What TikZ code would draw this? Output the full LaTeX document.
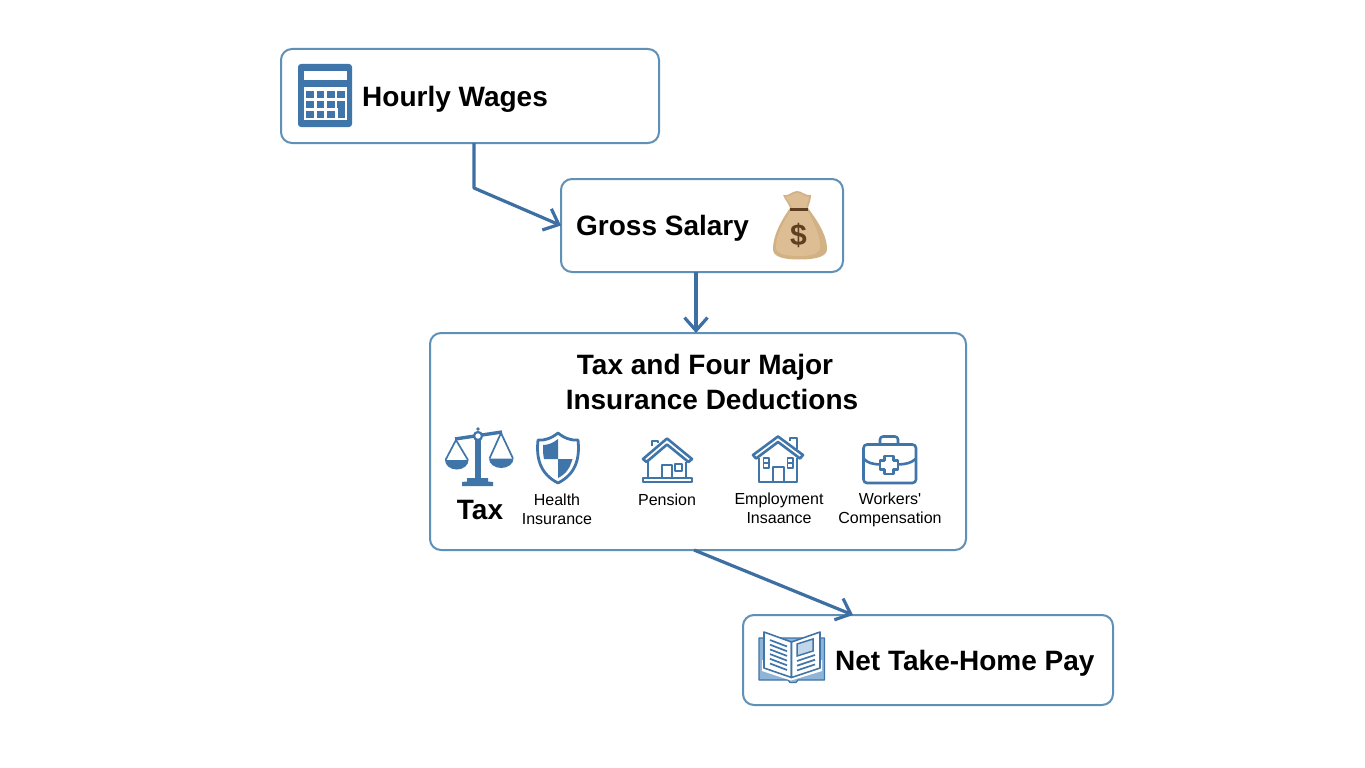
\documentclass[tikz,border=0pt]{standalone}
\usepackage{fontspec}
\setmainfont{Liberation Sans}
\usetikzlibrary{arrows.meta}
\definecolor{boxline}{HTML}{5F90B7}
\definecolor{flowc}{HTML}{3D6FA3}
\definecolor{iconc}{HTML}{3F75A8}
\definecolor{booklt}{HTML}{8FB4D6}
\definecolor{bagc}{HTML}{DDBE94}
\definecolor{bagd}{HTML}{D2B185}
\definecolor{bagb}{HTML}{5E3F22}
\tikzset{
  panel/.style={draw=boxline,line width=2pt,rounded corners=11pt,fill=white,inner sep=0pt,outer sep=0pt},
  flow/.style={draw=flowc,line width=3.2pt,-{Straight Barb[length=13pt,width=23pt,line width=3.2pt]}},
  head/.style={font=\bfseries\fontsize{28}{32}\selectfont,inner sep=0pt,text=black},
  small/.style={font=\fontsize{16}{18.6}\selectfont,inner sep=0pt,align=center,text=black},
  ico/.style={draw=iconc,line width=2.6pt,line join=round,fill=none},
}
\begin{document}
\begin{tikzpicture}[x=1pt,y=-1pt]
\useasboundingbox (0,0) rectangle (1365,768);
\fill[white] (0,0) rectangle (1365,768);
% panels
\node[panel,minimum width=378pt,minimum height=94pt] (hw) at (470,96) {};
\node[panel,minimum width=282pt,minimum height=93pt] (gs) at (702,225.5) {};
\node[panel,minimum width=536pt,minimum height=217pt] (td) at (698,441.5) {};
\node[panel,minimum width=370pt,minimum height=90pt] (np) at (928,660) {};
% connectors
\coordinate (b1) at (474,188);
\coordinate (b2) at (696,300);
\coordinate (b3) at (694,580);
\coordinate (b4) at (853,600);
\draw[flow,line join=round] (hw.south -| b1) -- (b1) -- (gs.west);
\draw[flow] (gs.south -| b2) -- (td.north -| b2);
\draw[flow] (td.south -| b3) -- (np.north -| b4);
% texts
\node[head,anchor=base west] (t1) at (362,106) {Hourly Wages};
\node[head,anchor=base west] (t2) at (576,235) {Gross Salary};
\node[head,anchor=base] (t3) at (705,374) {Tax and Four Major};
\node[head,anchor=base] (t4) at (712,409) {Insurance Deductions};
\node[head,anchor=base west] (t5) at (835,670) {Net Take-Home Pay};
\node[inner sep=0pt,anchor=base,font=\bfseries\fontsize{28}{32}\selectfont] (t6) at (480,519) {Tax};
\node[small] (l1) at (557,509) {Health\\Insurance};
\node[small] (l2) at (667,500) {Pension};
\node[small] (l3) at (779,508.5) {Employment\\Insaance};
\node[small] (l4) at (890,510) {Workers\textquotesingle\\Compensation};
% calculator
\fill[iconc,rounded corners=3pt] (298,64) rectangle (352,127);
\fill[white] (304,71) rectangle (346.5,80);
\fill[white] (304,87) rectangle (347,120);
\foreach \x in {306,316.5,327,337}{\foreach \y in {90.5,100.5}{\fill[iconc] (\x,\y) rectangle +(7.5,7);}}
\foreach \x in {306,316.5,327}{\fill[iconc] (\x,110.5) rectangle +(7.5,7);}
\fill[iconc] (338,100.5) rectangle (344.5,117.5);
% money bag
\fill[bagd] (783,195) .. controls (788,197) and (792,191) .. (797,191)
 .. controls (802,191) and (805,196) .. (811,195) .. controls (811,200) and (809,204) .. (808,208)
 .. controls (812,214) and (827,232) .. (827,249) .. controls (827,256) and (818,259.5) .. (799,259.5)
 .. controls (781,259.5) and (773,256) .. (773,249) .. controls (773,232) and (786,214) .. (790,208)
 .. controls (789,204) and (785,200) .. (783,195) -- cycle;
\fill[bagc] (785,196.5) .. controls (790,197) and (793,193) .. (797,193)
 .. controls (802,193) and (805,197) .. (809,197) .. controls (808,201) and (807,205) .. (806,208)
 .. controls (810,216) and (820,232) .. (820,246) .. controls (820,254) and (812,256) .. (799,256)
 .. controls (785,256) and (776,254) .. (776,247) .. controls (776,232) and (788,216) .. (792,208)
 .. controls (791,204) and (787,200) .. (785,196.5) -- cycle;
\draw[bagb,line width=3.6pt] (790,209.5) -- (808,209.5);
\node[inner sep=0pt,text=bagb,font=\bfseries\fontsize{30}{32}\selectfont] (dollar) at (798.5,235) {\$};
% scales
\draw[iconc,line width=3.4pt] (455,439) -- (502,432);
\draw[iconc,line width=6pt] (478,436) -- (478,480);
\fill[iconc] (467,478) -- (488,478) -- (488,481.5) -- (493,482) -- (493,486) -- (462,486) -- (462,482) -- (467,481.5) -- cycle;
\draw[iconc,line width=1.7pt,line join=round] (445.5,460) -- (456,440) -- (468,460);
\draw[iconc,line width=1.7pt,line join=round] (489.5,458.5) -- (501,433) -- (513,458.5);
\fill[iconc] (445,460) -- (468.5,460) arc[start angle=0,end angle=-180,x radius=11.75pt,y radius=9.5pt] -- cycle;
\fill[iconc] (489,458.5) -- (513.5,458.5) arc[start angle=0,end angle=-180,x radius=12.25pt,y radius=9.5pt] -- cycle;
\fill[iconc] (478,429) circle[radius=1.8pt];
\fill[white] (478,436) circle[radius=4pt];
\draw[iconc,line width=2.2pt] (478,436) circle[radius=4pt];
% shield
\draw[iconc,line width=2.8pt,line join=round] (558,433) .. controls (564,438) and (572,441) .. (578,440) .. controls (580,458) and (576,474) .. (558,483) .. controls (540,474) and (536,458) .. (538,440) .. controls (544,441) and (552,438) .. (558,433) -- cycle;
\fill[iconc] (558,439) .. controls (553,443) and (548,445) .. (543,445) .. controls (543,450) and (543,455) .. (544,459) -- (558,459) -- cycle;
\fill[iconc] (558,459) -- (572.5,459) .. controls (570,468) and (566,474) .. (558,478) -- cycle;
% pension house
\draw[ico] (643,459) -- (667,438.5) -- (692,459) -- (688.5,462) -- (667,444.5) -- (646.5,462) -- cycle;
\draw[ico] (652,446) -- (652,441) -- (658,441) -- (658,443);
\draw[ico] (648,462) -- (648,478);
\draw[ico] (686,462) -- (686,478);
\draw[ico] (643,478) rectangle (692,482);
\draw[ico] (662,478) -- (662,465) -- (672,465) -- (672,478);
\draw[ico] (675,464) rectangle (682,471);
% employment house
\draw[ico] (753,455) -- (778,436.5) -- (803,455) -- (800,458.5) -- (778,442) -- (756,458.5) -- cycle;
\draw[ico] (790,441) -- (790,438) -- (797,438) -- (797,449);
\draw[ico] (759,458) -- (759,482) -- (797,482) -- (797,458);
\draw[ico] (773,482) -- (773,467) -- (784,467) -- (784,482);
\draw[ico,line width=1.7pt] (763.5,458) rectangle (769,468);
\draw[ico,line width=1.7pt] (763.5,463) -- (769,463);
\draw[ico,line width=1.7pt] (787.5,458) rectangle (793,468);
\draw[ico,line width=1.7pt] (787.5,463) -- (793,463);
% briefcase
\draw[ico,rounded corners=3.5pt] (863.5,444.5) rectangle (916,483);
\draw[ico,rounded corners=3pt] (880,444) -- (880,436.5) -- (898,436.5) -- (898,444);
\draw[ico] (864,459) .. controls (868,463) and (872,464) .. (880,464.5);
\draw[ico] (915.5,459) .. controls (911,463) and (907,464) .. (898,464.5);
\draw[ico,line width=2.8pt] (884.5,456) -- (893.5,456) -- (893.5,460.5) -- (898,460.5) -- (898,469.5) -- (893.5,469.5) -- (893.5,474) -- (884.5,474) -- (884.5,469.5) -- (880,469.5) -- (880,460.5) -- (884.5,460.5) -- cycle;
% book
\draw[iconc,line width=1.2pt,fill=booklt,line join=round] (759,638) -- (759,680) -- (788,680) -- (790,682.5) -- (796,682.5) -- (798,680) -- (824.5,680) -- (824.5,638) -- cycle;
\fill[white] (762,660) -- (762,671) -- (791,680.5) -- (822,671) -- (822,660) -- cycle;
\draw[iconc,line width=1.6pt,fill=white,line join=round] (764,632) -- (791.5,642) -- (791.5,677.5) -- (764,668) -- cycle;
\draw[iconc,line width=1.6pt,fill=white,line join=round] (820,632) -- (791.5,642) -- (791.5,677.5) -- (820,668) -- cycle;
\foreach \i in {0,1,2,3,4,5}{\draw[iconc,line width=1.7pt] (770,{640+\i*4.7}) -- (787,{646.5+\i*4.7});}
\foreach \i in {0,1,2}{\draw[iconc,line width=1.7pt] (797,{661+\i*4.7}) -- (815,{655+\i*4.7});}
\draw[iconc,line width=1.5pt,fill=booklt!55] (797,644) -- (813,639) -- (813,651) -- (797,656) -- cycle;
\end{tikzpicture}
\end{document}
